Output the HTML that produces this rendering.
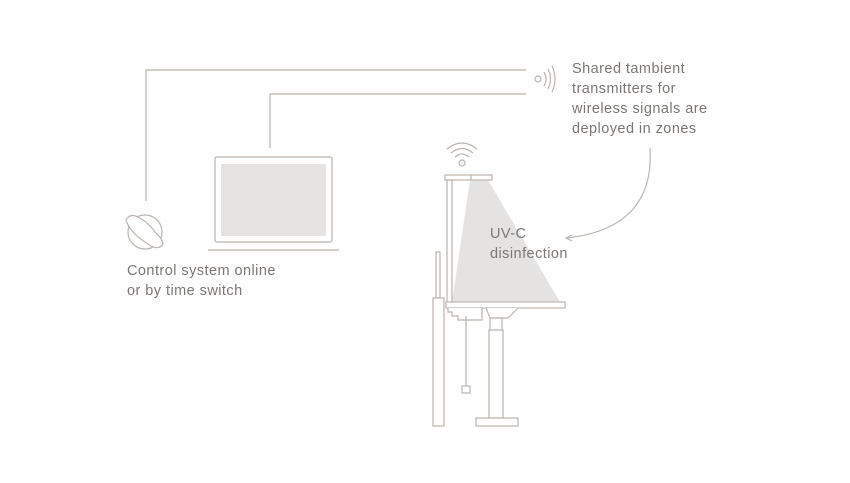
<!DOCTYPE html>
<html><head><style>
html,body{margin:0;padding:0;background:#fff;}
text{font-family:"Liberation Sans",sans-serif;font-size:14.5px;letter-spacing:0.45px;fill:#7d7774;}
</style></head><body>
<svg width="850" height="478" viewBox="0 0 850 478" xmlns="http://www.w3.org/2000/svg">
<g fill="none" stroke="#bdb4ae" stroke-width="1.2">
<polyline points="146,201 146,70 526,70"/>
<polyline points="270,148 270,94 526,94"/>
<circle cx="538" cy="79" r="3"/>
<path d="M544,72 Q548,79 544,86"/>
<path d="M548,69 Q553,79 548,89"/>
<path d="M552,66 Q558,79 552,92"/>
<rect x="215" y="157" width="117" height="85" rx="2"/>
<line x1="208" y1="250" x2="339" y2="250"/>
<circle cx="145" cy="232" r="17"/>
<path d="M126,220 Q130,213 138,217 Q149,223 155,232 Q162,238 163,244 Q159,250 151,246 Q141,240 135,234 Q128,227 126,220 Z" fill="#fff"/>
<circle cx="462" cy="163" r="3"/>
<path d="M455,157 Q462,151 469,157"/>
<path d="M451,153 Q462,144 473,153"/>
<path d="M447,149 Q462,137 477,149"/>
<path d="M650,148 Q655,228 567,238"/>
<path d="M572,235 L566,238 L572,241"/>
</g>
<rect x="221" y="164" width="105" height="72" fill="#e6e4e3"/>
<polygon points="470,180 488,180 560,302 452,302" fill="#e5e3e2"/>
<g fill="#fff" stroke="#bdb4ae" stroke-width="1.2">
<rect x="445" y="175" width="47" height="5"/>
<line x1="471" y1="175" x2="471" y2="180"/>
<rect x="447" y="180" width="5" height="122"/>
<rect x="436" y="252" width="4" height="46"/>
<rect x="433" y="298" width="11" height="128"/>
<rect x="446" y="302" width="119" height="6"/>
<path d="M448,308 L448,312 L452,312 L452,316 L458,316 L458,320 L482,320 L482,308"/>
<path d="M486,308 L490,318 L508,318 L518,308"/>
<rect x="490" y="318" width="12" height="12"/>
<rect x="489" y="330" width="14" height="88"/>
<rect x="476" y="418" width="42" height="8"/>
<line x1="466" y1="316" x2="466" y2="386"/>
<rect x="462" y="386" width="8" height="7"/>
</g>
<text x="572" y="73">Shared tambient</text>
<text x="572" y="93">transmitters for</text>
<text x="572" y="113">wireless signals are</text>
<text x="572" y="133">deployed in zones</text>
<text x="490" y="238">UV-C</text>
<text x="490" y="258">disinfection</text>
<text x="127" y="275">Control system online</text>
<text x="127" y="295">or by time switch</text>
</svg>
</body></html>
